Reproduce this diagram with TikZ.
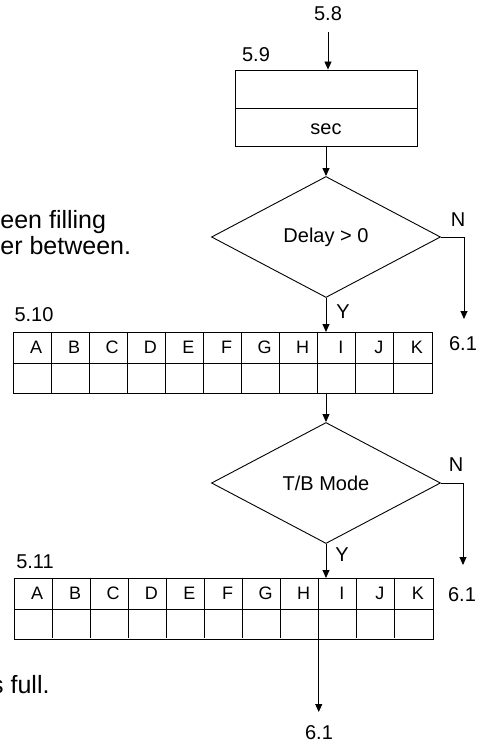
\documentclass[tikz,border=0pt]{standalone}
\usepackage{fontspec}
\setmainfont{Liberation Sans}
\usepackage{tikz}
\usetikzlibrary{arrows.meta}
\usetikzlibrary{shapes.geometric, positioning}
\newcommand{\cellW}{38.09}
\newcommand{\tabW}{419}
\newcommand{\tabH}{61}
\newcommand{\midX}{326}

\tikzset{
  lbl/.style={font=\fontsize{20}{24}\selectfont, inner sep=0},
  cell/.style={font=\fontsize{18}{22}\selectfont, inner sep=0},
  note/.style={font=\fontsize{25}{30}\selectfont, inner sep=0},
  arr/.style={-{Triangle[length=8pt,width=7pt]}},
  dec/.style={diamond, draw, minimum width=229pt, minimum height=121pt, inner sep=0, font=\fontsize{20}{24}\selectfont},
  tab/.style={draw, minimum width=\tabW pt, minimum height=\tabH pt, inner sep=0, anchor=north west}
}

\begin{document}
\begin{tikzpicture}[x=1pt, y=-1pt, line width=0.9pt]
\useasboundingbox (0,0) rectangle (489,749);

% notes cut at the left edge
\node[note, anchor=base west] (noteA) at (0,228) {een filling};
\node[note, anchor=base west] (noteB) at (0,254) {er between.};
\node[note, anchor=base east] (noteC) at (50,693) {s full.};

% top box
\node[lbl] at (328,14) (l58) {5.8};
\coordinate (in58) at (328,32);
\node[lbl] at (256,55) (l59) {5.9};
\node[draw, minimum width=182pt, minimum height=76pt, inner sep=0] at (\midX,108) (secbox) {};
\draw (secbox.west) -- (secbox.east);
\node[lbl] at (\midX,129) (sec) {sec};
\draw[arr] (in58) -- (in58 |- secbox.north);

% first decision
\node[dec] at (\midX,237) (dDelay) {Delay > 0};
\draw[arr] (secbox.south) -- (dDelay.north);
\coordinate (outN1) at (464,319);
\draw[arr] (dDelay.east) -| (outN1);
\node[lbl] at (458,220) (N1) {N};
\node[lbl] at (463,344) (go1) {6.1};
\node[lbl] at (343,312) (Y1) {Y};

% first table
\node[lbl] at (34,315) (l510) {5.10};
\node[tab] at (13,332) (tabA) {};
\draw (tabA.west) -- (tabA.east);
\foreach \i in {1,...,10}
    \draw (13+\i*\cellW,332) -- ++(0,\tabH);
\foreach \l [count=\i] in {A,B,C,D,E,F,G,H,I,J,K}
    \node[cell] at (13+\i*\cellW-\cellW/2+4,347) {\l};
\draw[arr] (dDelay.south) -- (dDelay.south |- tabA.north);

% second decision
\node[dec] at (\midX,483) (dMode) {T/B Mode};
\draw[arr] (dMode.north |- tabA.south) -- (dMode.north);
\coordinate (outN2) at (463,565);
\draw[arr] (dMode.east) -| (outN2);
\node[lbl] at (456,465) (N2) {N};
\node[lbl] at (462,595) (go2) {6.1};
\node[lbl] at (342,555) (Y2) {Y};

% second table
\node[lbl] at (35,562) (l511) {5.11};
\node[tab] at (14,578) (tabB) {};
\draw (tabB.west) -- (tabB.east);
\foreach \i in {1,...,10}
    \draw (14+\i*\cellW,578) -- ++(0,\tabH-1);
\foreach \l [count=\i] in {A,B,C,D,E,F,G,H,I,J,K}
    \node[cell] at (14+\i*\cellW-\cellW/2+4,593) {\l};
\draw[arr] (dMode.south) -- (dMode.south |- tabB.north);
\coordinate (outB) at (14+8*\cellW,638);
\coordinate (endB) at (14+8*\cellW,712);
\draw[arr] (outB) -- (endB);
\node[lbl] at (319,733) (go3) {6.1};

\end{tikzpicture}
\end{document}
